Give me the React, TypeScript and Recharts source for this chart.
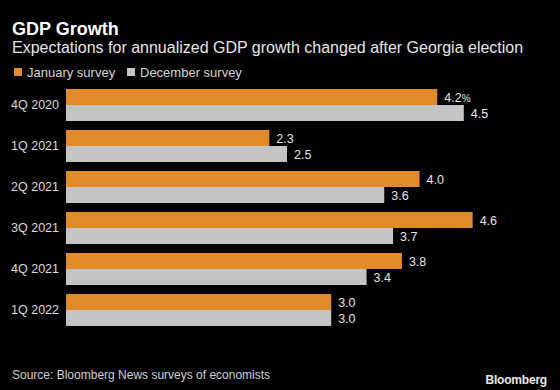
import { Bar, BarChart, LabelList, XAxis, YAxis } from "recharts";

const categories = ["4Q 2020", "1Q 2021", "2Q 2021", "3Q 2021", "4Q 2021", "1Q 2022"];
const januarySurvey = [4.2, 2.3, 4.0, 4.6, 3.8, 3.0];
const decemberSurvey = [4.5, 2.5, 3.6, 3.7, 3.4, 3.0];

const seriesNames = ["January survey", "December survey"];
const seriesColors = ["#e08a2a", "#c4c4c4"];

const FONT = "'Liberation Sans', Arial, sans-serif";

const data = categories.map((period, i) => ({
  period,
  jan: januarySurvey[i],
  dec: decemberSurvey[i],
}));

// value label to the right of each bar; first one carries the % unit
const ValueLabel = (props: any) => {
  const { x, y, width, height, value, index, withUnit } = props;
  return (
    <text
      x={Number(x) + Number(width) + 7}
      y={Number(y) + Number(height) / 2 + 4.5}
      fill="#e4e4e4"
      fontSize={12.5}
      fontFamily={FONT}
    >
      {Number(value).toFixed(1)}
      {withUnit && index === 0 ? <tspan fontSize={10}>%</tspan> : null}
    </text>
  );
};

export default function App() {
  return (
    <div style={{ position: "relative", width: 560, height: 390, background: "#000", overflow: "hidden" }}>
      <style>{`body{margin:0;background:#000}`}</style>
      <BarChart
        width={560}
        height={390}
        data={data}
        layout="vertical"
        margin={{ top: 84, right: 52, bottom: 60, left: 0 }}
        barCategoryGap={5}
        barGap={0}
        style={{ position: "absolute", left: 0, top: 0 }}
      >
        <XAxis type="number" domain={[0, 5]} hide />
        <YAxis
          type="category"
          dataKey="period"
          width={66}
          axisLine={false}
          tickLine={false}
          tickSize={0}
          tickMargin={7}
          tick={{ fill: "#dadada", fontSize: 12.5, fontFamily: FONT }}
        />
        <Bar dataKey="jan" name={seriesNames[0]} fill={seriesColors[0]} isAnimationActive={false}>
          <LabelList dataKey="jan" content={(p: any) => <ValueLabel {...p} withUnit />} />
        </Bar>
        <Bar dataKey="dec" name={seriesNames[1]} fill={seriesColors[1]} isAnimationActive={false}>
          <LabelList dataKey="dec" content={(p: any) => <ValueLabel {...p} />} />
        </Bar>
      </BarChart>
      <svg
        width={560}
        height={390}
        style={{ position: "absolute", left: 0, top: 0, pointerEvents: "none" }}
        fontFamily={FONT}
      >
        <text x={12} y={34.5} fill="#ffffff" fontSize={18} fontWeight="bold">
          GDP Growth
        </text>
        <text x={12} y={53} fill="#e6e6e6" fontSize={16}>
          Expectations for annualized GDP growth changed after Georgia election
        </text>
        {seriesNames.map((name, i) => {
          const x0 = i === 0 ? 14 : 127;
          return (
            <g key={name}>
              <rect x={x0} y={68} width={8} height={8} fill={seriesColors[i]} />
              <text x={x0 + 13} y={77} fill="#d6d6d6" fontSize={13}>
                {name}
              </text>
            </g>
          );
        })}
        <text x={12} y={379} fill="#cfcfcf" fontSize={12}>
          Source: Bloomberg News surveys of economists
        </text>
        <text x={547} y={384} fill="#e8e8e8" fontSize={12} fontWeight="bold" textAnchor="end" letterSpacing={-0.2}>
          Bloomberg
        </text>
      </svg>
    </div>
  );
}
